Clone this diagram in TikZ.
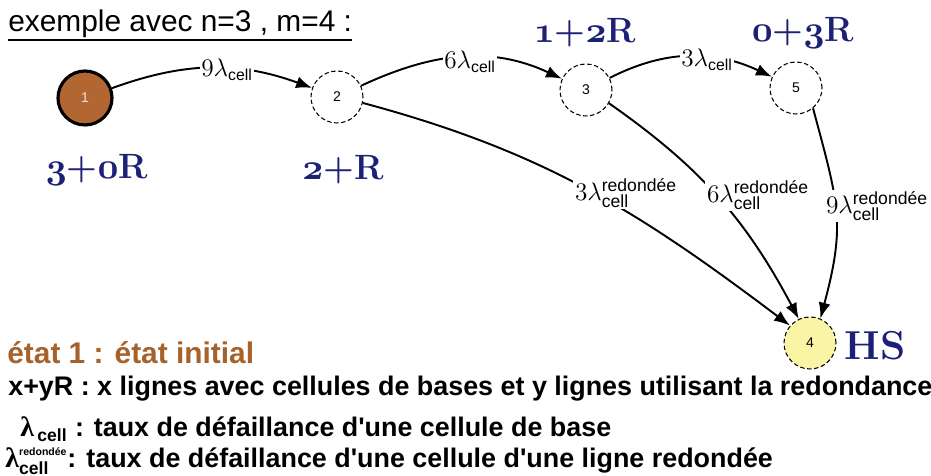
\documentclass[tikz,border=0pt]{standalone}
\usepackage{fontspec}
\usepackage{tikz}
\usetikzlibrary{arrows.meta, positioning, calc}
\usepackage{xcolor}
\newfontfamily\arial{Liberation Sans}
\newfontfamily\grec{Liberation Serif}
\definecolor{etatbrun}{RGB}{166,98,42}
\definecolor{noeudbrun}{RGB}{178,102,50}
\definecolor{bleuetat}{RGB}{28,32,118}
\definecolor{jauneHS}{RGB}{250,245,165}
\newcommand{\osn}[1]{{\usefont{OML}{cmm}{b}{it}#1}}
\newcommand{\lcell}[1]{$#1\lambda_{\mbox{\arial\fontsize{9}{9}\selectfont cell}}$}
\newcommand{\lred}[1]{$#1\lambda^{\mbox{\arial\fontsize{10}{10}\selectfont redondée}}_{\mbox{\arial\fontsize{10}{10}\selectfont cell}}$}

\begin{document}
\begin{tikzpicture}[x=0.02cm, y=0.02cm,
  etat/.style={circle, draw, dash pattern=on 2.5pt off 1.5pt, line width=0.6pt,
    minimum size=1.04cm, inner sep=0pt, font=\arial\fontsize{8}{8}\selectfont},
  depart/.style={etat, solid, line width=1.8pt, fill=noeudbrun,
    minimum size=1.08cm, text=white!80!noeudbrun},
  panne/.style={etat, fill=jauneHS},
  trans/.style={-{Latex[length=3.2mm,width=2.4mm]}, line width=1.1pt},
  etiq/.style={text=bleuetat, font=\fontsize{20}{22}\selectfont\bfseries},
  taux/.style={fill=white, inner sep=1pt, font=\fontsize{14}{14}\selectfont},
  legende/.style={anchor=base west, inner sep=0pt,
    font=\arial\bfseries\fontsize{15.3}{18}\selectfont}]
  \useasboundingbox (0,0) rectangle (931,476);
  % etats
  \node[depart] (n1) at (85,378) {1};
  \node[etat]   (n2) at (337,379) {2};
  \node[etat]   (n3) at (586,386) {3};
  \node[etat]   (n5) at (796,388) {5};
  \node[panne]  (n4) at (810,133) {4};
  \node[etiq] (s1) at (97,306)  {\osn{3}+\osn{0}R};
  \node[etiq] (s2) at (343,306) {\osn{2}+R};
  \node[etiq] (s3) at (585,443) {\osn{1}+\osn{2}R};
  \node[etiq] (s5) at (803,443) {\osn{0}+\osn{3}R};
  \node[etiq, font=\fontsize{23}{25}\selectfont\bfseries] (hs) at (875,130) {HS};
  % transitions
  \draw[trans] (n1) to[out=20,in=160] (n2);
  \draw[trans] (n2) to[out=25,in=155] (n3);
  \draw[trans] (n3) to[out=27,in=155] (n5);
  \draw[trans] (n2.-13) to[out=-15,in=143] (n4.139);
  \draw[trans] (n3.-30) to[out=-35,in=118] (n4.115);
  \draw[trans] (n5.-50) to[out=-75,in=75,looseness=1.2] (n4.67);
  \node[taux] (t12) at (227,406) {\lcell{9}};
  \node[taux] (t23) at (470,414) {\lcell{6}};
  \node[taux] (t35) at (707,416) {\lcell{3}};
  \node[taux] (t24) at (626,283) {\lred{3}};
  \node[taux] (t34) at (758,281) {\lred{6}};
  \node[taux] (t54) at (877,270) {\lred{9}};
  % legende
  \node[legende, font=\arial\fontsize{17}{20}\selectfont] (titre) at (8,444)
    {exemple avec n=3 , m=4 :};
  \draw[line width=1.5pt] ([yshift=-4.5pt]titre.base west) -- ([yshift=-4.5pt]titre.base east);
  \node[legende, text=etatbrun, font=\arial\bfseries\fontsize{17}{20}\selectfont]
    (etat1) at (7,112) {état 1 : état initial};
  \node[legende] (xyR) at (8,80)
    {x+yR : x lignes avec cellules de bases et y lignes utilisant la redondance};
  \node[legende] (lam) at (20,39)
    {$\mbox{\grec\fontsize{16}{16}\selectfont λ}_{\,\mbox{\arial\bfseries\fontsize{10}{10}\selectfont cell}}$ : taux de défaillance d'une cellule de base};
  \node[legende] (lamr) at (5,8)
    {$\mbox{\grec\fontsize{16}{16}\selectfont λ}^{\mbox{\arial\fontsize{6}{6}\selectfont redondée}}_{\mbox{\arial\bfseries\fontsize{10}{10}\selectfont cell}}$: taux de défaillance d'une cellule d'une ligne redondée};
\end{tikzpicture}
\end{document}
